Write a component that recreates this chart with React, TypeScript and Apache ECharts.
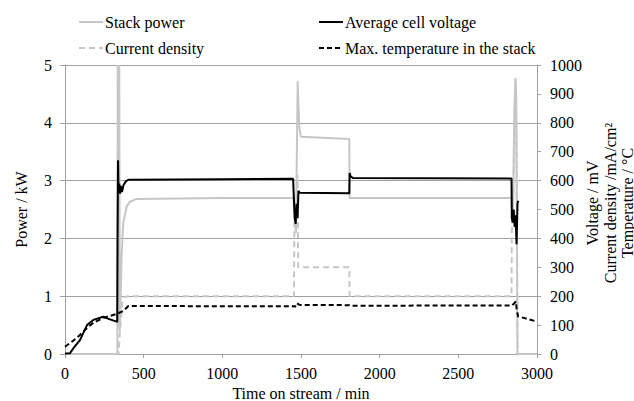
import React, { useEffect, useRef } from "react";
import * as echarts from "echarts";

const seriesNames = [
  "Stack power",
  "Current density",
  "Average cell voltage",
  "Max. temperature in the stack",
];

const xTicks = [0, 500, 1000, 1500, 2000, 2500, 3000];

// [time (min), power (kW)]
const stackPower: [number, number][] = [
  [0, 0], [333, 0], [335, 5], [338, 0.5], [343, 0.5], [345, 5], [348, 0.4], [352, 0.8],
  [360, 1.7], [370, 2.27], [392, 2.55], [410, 2.63], [450, 2.68], [1000, 2.7], [1452, 2.7],
  [1458, 2.4], [1468, 2.1], [1474, 3.6], [1479, 4.72], [1484, 4.3], [1490, 3.9], [1500, 3.76],
  [1807, 3.72], [1809, 2.7], [2838, 2.7], [2842, 2.3], [2848, 2.6], [2856, 4.2], [2863, 4.78],
  [2868, 4.5], [2872, 2.5], [2876, 0], [3000, 0],
];

// [time (min), current density (mA/cm²)]
const currentDensity: [number, number][] = [
  [0, 0], [340, 0], [350, 80], [362, 170], [372, 196], [400, 200], [1455, 200], [1458, 450],
  [1470, 480], [1478, 620], [1482, 300], [1807, 300], [1809, 200], [2838, 200], [2840, 420],
  [2850, 550], [2860, 880], [2864, 940], [2870, 700], [2876, 0], [3000, 0],
];

// [time (min), voltage (mV)]
const avgCellVoltage: [number, number][] = [
  [0, 2], [32, 3], [60, 25], [95, 48], [140, 100], [180, 118], [243, 129], [286, 120],
  [332, 111], [334, 400], [337, 670], [340, 560], [345, 590], [350, 555], [355, 582],
  [362, 560], [372, 585], [388, 598], [405, 603], [1000, 605], [1450, 606], [1453, 560],
  [1460, 470], [1466, 450], [1472, 520], [1478, 470], [1484, 565], [1490, 558], [1807, 556],
  [1809, 626], [1815, 615], [1830, 609], [2838, 607], [2840, 470], [2846, 455], [2852, 500],
  [2858, 440], [2864, 480], [2870, 380], [2876, 520], [2880, 530],
];

// [time (min), temperature (°C)]
const maxTemperature: [number, number][] = [
  [0, 25], [50, 45], [95, 66], [140, 90], [180, 108], [243, 125], [300, 134], [339, 141],
  [370, 149], [403, 166], [1455, 165], [1462, 163], [1472, 176], [1490, 170], [1807, 169],
  [1815, 167], [2840, 168], [2855, 175], [2865, 182], [2872, 150], [2880, 130], [2950, 120],
  [3000, 112],
];

const FONT = "Liberation Serif";
const LIGHT = "#c6c6c6";
const AXIS = "#a0a0a0";

export default function App() {
  const ref = useRef<HTMLDivElement>(null);
  useEffect(() => {
    if (!ref.current) return;
    const chart = echarts.init(ref.current, undefined, { renderer: "svg" });
    const ts = () => ({ fontFamily: FONT, fontSize: 16, color: "#000" });
    const plain = (v: number) => String(v);
    const legendBase = {
      orient: "vertical",
      top: 9,
      itemWidth: 24,
      itemHeight: 14,
      itemGap: 10,
      itemStyle: { opacity: 0 },
      textStyle: { fontFamily: FONT, fontSize: 16, color: "#000", padding: [0, 0, 0, -3] },
    };
    chart.setOption({
      animation: false,
      backgroundColor: "#fff",
      grid: { left: 65, right: 97, top: 65, bottom: 47, containLabel: false, outerBoundsMode: "none" },
      legend: [
        { ...legendBase, data: [seriesNames[0], seriesNames[1]], left: 73 },
        { ...legendBase, data: [seriesNames[2], seriesNames[3]], left: 313 },
      ],
      xAxis: {
        type: "value",
        min: xTicks[0],
        max: xTicks[xTicks.length - 1],
        interval: 500,
        name: "Time on stream / min",
        nameLocation: "middle",
        nameGap: 27,
        nameTextStyle: ts(),
        axisLine: { show: true, lineStyle: { color: AXIS } },
        axisTick: { show: true, length: 4, lineStyle: { color: AXIS } },
        axisLabel: { ...ts(), margin: 11, formatter: plain },
        splitLine: { show: false },
      },
      yAxis: [
        {
          type: "value",
          min: 0,
          max: 5,
          interval: 1,
          name: "Power / kW",
          nameLocation: "middle",
          nameRotate: 90,
          nameGap: 36,
          nameTextStyle: ts(),
          axisLine: { show: true, lineStyle: { color: AXIS } },
          axisTick: { show: true, length: 5, lineStyle: { color: AXIS } },
          axisLabel: { ...ts(), margin: 13, formatter: plain },
          splitLine: { show: true, lineStyle: { color: AXIS, width: 1 } },
        },
        {
          type: "value",
          min: 0,
          max: 1000,
          interval: 100,
          position: "right",
          axisLine: { show: true, lineStyle: { color: AXIS } },
          axisTick: { show: true, length: 4, lineStyle: { color: AXIS } },
          axisLabel: { ...ts(), margin: 13, formatter: plain },
          splitLine: { show: false },
        },
      ],
      graphic: [
        {
          type: "text",
          x: 592,
          y: 203,
          rotation: Math.PI / 2,
          style: { text: "Voltage / mV", fontFamily: FONT, fontSize: 16, fill: "#000", align: "center", verticalAlign: "middle" },
        },
        {
          type: "text",
          x: 610,
          y: 203,
          rotation: Math.PI / 2,
          style: { text: "Current density /mA/cm²", fontFamily: FONT, fontSize: 16, fill: "#000", align: "center", verticalAlign: "middle" },
        },
        {
          type: "text",
          x: 627,
          y: 203,
          rotation: Math.PI / 2,
          style: { text: "Temperature / °C", fontFamily: FONT, fontSize: 16, fill: "#000", align: "center", verticalAlign: "middle" },
        },
      ],
      series: [
        {
          name: seriesNames[0],
          type: "line",
          yAxisIndex: 0,
          data: stackPower,
          symbol: "none",
          lineStyle: { color: LIGHT, width: 2 },
          itemStyle: { color: LIGHT },
        },
        {
          name: seriesNames[1],
          type: "line",
          yAxisIndex: 1,
          data: currentDensity,
          symbol: "none",
          lineStyle: { color: LIGHT, width: 2, type: [6, 4] },
          itemStyle: { color: LIGHT },
        },
        {
          name: seriesNames[2],
          type: "line",
          yAxisIndex: 1,
          data: avgCellVoltage,
          symbol: "none",
          lineStyle: { color: "#000", width: 2 },
          itemStyle: { color: "#000" },
        },
        {
          name: seriesNames[3],
          type: "line",
          yAxisIndex: 1,
          data: maxTemperature,
          symbol: "none",
          lineStyle: { color: "#000", width: 2, type: [5, 3] },
          itemStyle: { color: "#000" },
        },
      ],
    });
    return () => chart.dispose();
  }, []);
  return (
    <div
      ref={ref}
      style={{ position: "fixed", left: 0, top: 0, width: 634, height: 401, background: "#fff" }}
    />
  );
}
